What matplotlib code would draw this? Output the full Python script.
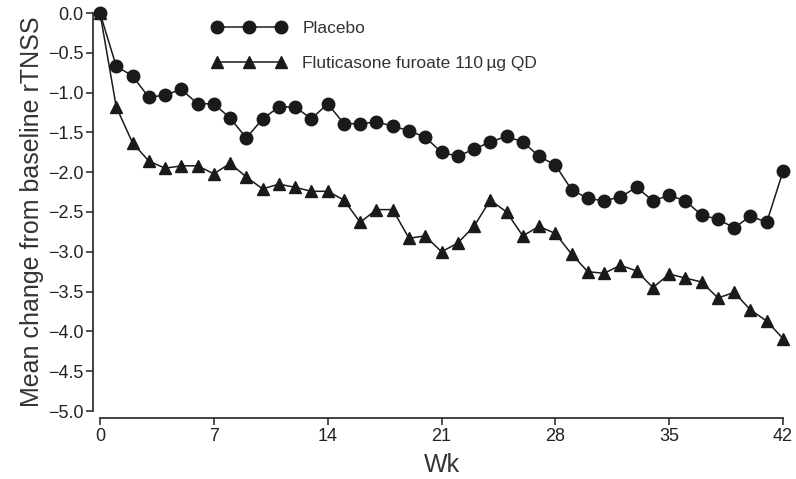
import matplotlib
matplotlib.use('Agg')
import matplotlib.pyplot as plt

plt.rcParams['font.family'] = ['Liberation Sans', 'DejaVu Sans']

# weeks 0..42
weeks = list(range(0, 43))

placebo = [0.0, -0.67, -0.79, -1.06, -1.03, -0.96, -1.14, -1.14, -1.32, -1.57,
           -1.33, -1.18, -1.18, -1.33, -1.14, -1.39, -1.39, -1.37, -1.42, -1.48,
           -1.56, -1.75, -1.80, -1.71, -1.62, -1.55, -1.62, -1.80, -1.91, -2.22,
           -2.33, -2.36, -2.31, -2.19, -2.36, -2.29, -2.36, -2.54, -2.59, -2.70,
           -2.55, -2.63, -1.99]

fluticasone = [0.0, -1.18, -1.63, -1.86, -1.95, -1.92, -1.92, -2.02, -1.89, -2.06,
               -2.21, -2.15, -2.19, -2.24, -2.24, -2.35, -2.63, -2.47, -2.47, -2.83,
               -2.80, -3.00, -2.89, -2.68, -2.35, -2.50, -2.80, -2.68, -2.77, -3.03,
               -3.25, -3.27, -3.17, -3.24, -3.45, -3.28, -3.33, -3.38, -3.58, -3.51,
               -3.73, -3.87, -4.09]

xticks = [0, 7, 14, 21, 28, 35, 42]
yticks = [0.0, -0.5, -1.0, -1.5, -2.0, -2.5, -3.0, -3.5, -4.0, -4.5, -5.0]
ytick_labels = ['0.0', '\u22120.5', '\u22121.0', '\u22121.5', '\u22122.0', '\u22122.5',
                '\u22123.0', '\u22123.5', '\u22124.0', '\u22124.5', '\u22125.0']

W, H = 796, 479
fig = plt.figure(figsize=(W / 100, H / 100), dpi=100)
# axes box in pixels: x 100..783, y 13..411
ax = fig.add_axes([100 / W, 1 - 411 / H, (783 - 100) / W, (411 - 13) / H])

ax.plot(weeks, placebo, '-o', color='#1a1a1a', lw=1.1, ms=9,
        clip_on=False, zorder=3, label='Placebo')
ax.plot(weeks, fluticasone, '-^', color='#1a1a1a', lw=1.1, ms=8.5,
        clip_on=False, zorder=3, label='Fluticasone furoate 110\u2009\u00b5g QD')

ax.set_xlim(0, 42)
ax.set_ylim(-5, 0)
ax.set_xticks(xticks)
ax.set_yticks(yticks)
ax.set_yticklabels(ytick_labels)

for s in ['top', 'right']:
    ax.spines[s].set_visible(False)
for s in ['left', 'bottom']:
    ax.spines[s].set_position(('outward', 5))
    ax.spines[s].set_linewidth(1.2)
    ax.spines[s].set_color('#222222')

ax.tick_params(axis='both', direction='out', length=5, width=1.1, colors='#222222',
               labelsize=13, pad=2)

ax.set_xlabel('Wk', fontsize=18, color='#333333', labelpad=6)
ax.set_ylabel('Mean change from baseline rTNSS', fontsize=18, color='#333333', labelpad=3)

leg = ax.legend(loc='upper left', bbox_to_anchor=(212 / W, 1 - 21 / H),
                bbox_transform=fig.transFigure, frameon=False, numpoints=3,
                handlelength=4.3, handletextpad=0.9, labelspacing=1.15,
                borderpad=0, borderaxespad=0, fontsize=12.5)
for t in leg.get_texts():
    t.set_color('#333333')

fig.savefig('out.png', dpi=100)
